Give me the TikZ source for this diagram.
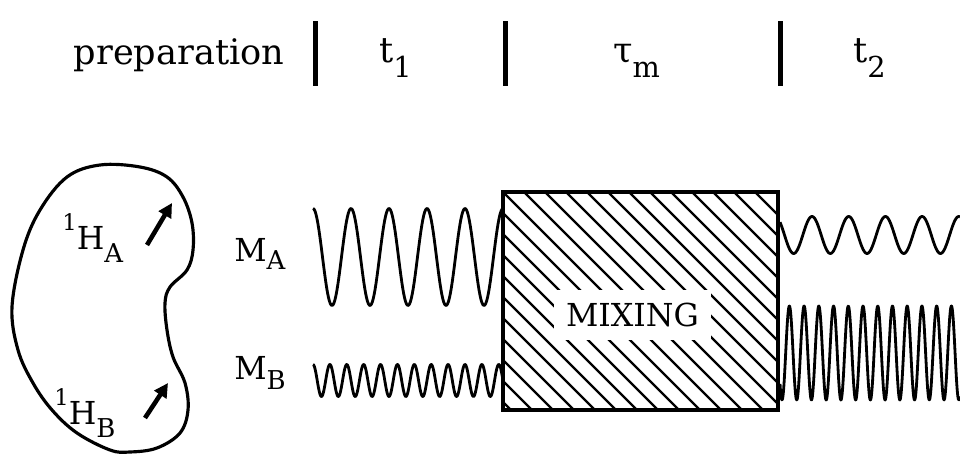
\documentclass[tikz,border=0pt]{standalone}
\usepackage{fontspec}
\setmainfont{DejaVu Serif}
\usetikzlibrary{positioning, arrows.meta}

\newcommand{\lowered}[2][0.42em]{\raisebox{-#1}{\scalebox{0.82}{#2}}}
\newcommand{\raised}[1]{\raisebox{0.62em}{\scalebox{0.72}{#1}}}

\begin{document}
\begin{tikzpicture}[
    headtext/.style={font=\fontsize{20}{24}\selectfont, anchor=base, inner sep=0pt},
    spinlabel/.style={font=\fontsize{18}{21}\selectfont, anchor=base west, inner sep=0pt},
    timebar/.style={line width=0.1cm},
    bean/.style={line width=1.8pt, line join=round},
    spinarrow/.style={-{Triangle[length=8pt, width=8pt]}, line width=2.6pt},
    signal/.style={line width=1.6pt, line join=round},
    mixbox/.style={
        draw, line width=2.2pt, inner sep=0pt,
        minimum width=5.5cm, minimum height=4.36cm
    },
    hatchline/.style={line width=1.3pt},
    mixlabel/.style={
        fill=white, inner sep=0pt, font=\fontsize{18}{22}\selectfont,
        minimum width=3.14cm, minimum height=1cm
    }
]
\useasboundingbox (0,0) rectangle (19.2,9.1);

% --- Time axis ---
\node[headtext] (prep) at (3.58,7.8) {preparation};
\node[headtext] (tone) at (7.91,7.84) {t\lowered{1}};
\node[headtext] (taum) at (12.73,7.84) {τ\lowered{m}};
\node[headtext] (ttwo) at (17.39,7.84) {t\lowered{2}};
\draw[timebar] (6.3,7.38) -- (6.3,8.68);
\draw[timebar] (10.1,7.38) -- (10.1,8.68);
\draw[timebar] (15.6,7.38) -- (15.6,8.68);

% --- Molecule with two spins ---
\draw[bean] plot[smooth cycle, tension=0.6] coordinates {
    (2.0,5.8) (2.8,5.76) (3.34,5.56) (3.66,5.16) (3.84,4.64) (3.86,4.1)
    (3.74,3.7) (3.4,3.36) (3.3,3.04) (3.34,2.5) (3.46,1.96) (3.7,1.44)
    (3.76,0.9) (3.6,0.44) (3.14,0.14) (2.6,0.06) (2.2,0.1) (1.54,0.44)
    (1.04,0.9) (0.66,1.44) (0.36,2.1) (0.24,2.96) (0.46,4.1) (0.8,4.9)
    (1.34,5.56)};
\node[spinlabel] (hA) at (1.24,4.1) {\raised{1}H\lowered[0.4em]{A}};
\node[spinlabel] (hB) at (1.08,0.6) {\raised{1}H\lowered[0.4em]{B}};
\coordinate (spinA0) at (2.94,4.2);
\coordinate (spinA1) at (3.44,5.04);
\coordinate (spinB0) at (2.9,0.74);
\coordinate (spinB1) at (3.36,1.44);
\draw[spinarrow] (spinA0) -- (spinA1);
\draw[spinarrow] (spinB0) -- (spinB1);

% --- Magnetisations during t1 ---
\node[spinlabel] (mA) at (4.68,3.86) {M\lowered[0.25em]{A}};
\node[spinlabel] (mB) at (4.68,1.5) {M\lowered[0.3em]{B}};
\draw[signal] plot[domain=6.26:10.06, samples=200]
    (\x, {3.96 + 0.97*cos(360*(\x-6.26)/0.76)});
\draw[signal] plot[domain=6.26:10.06, samples=400]
    (\x, {1.49 + 0.32*cos(360*(\x-6.26)/0.33778)});

% --- Mixing period ---
\node[mixbox] (mix) at (12.81,3.08) {};
\begin{scope}
    \clip (mix.south west) rectangle (mix.north east);
    \foreach \k in {-11,...,13}
        \draw[hatchline] ({15.32+0.42*\k-6.5},6.5) -- ({15.32+0.42*\k+0.5},-0.5);
\end{scope}
\node[mixlabel] (mixtext) at (12.65,2.8) {MIXING};

% --- Detection during t2 ---
\draw[signal] plot[domain=15.6:19.2, samples=220]
    (\x, {4.4 + 0.37*cos(360*(\x-16.24)/0.734)});
\draw[signal] plot[domain=15.6:19.2, samples=500]
    (\x, {2.04 - 0.94*cos(360*(\x-15.64)/0.2946)});

\end{tikzpicture}
\end{document}
